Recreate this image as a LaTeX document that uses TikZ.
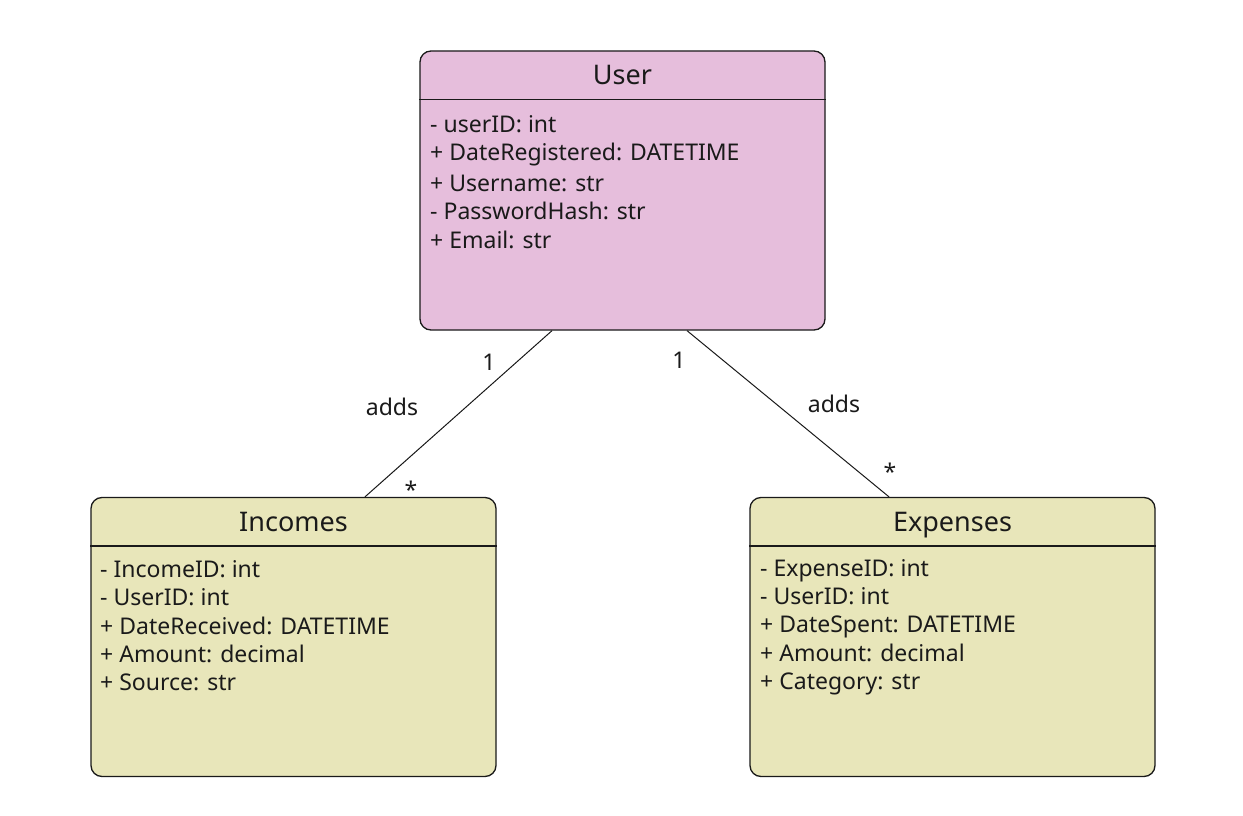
\documentclass[tikz,border=0pt]{standalone}
\usepackage{fontspec}
\setmainfont{Noto Sans}
\usetikzlibrary{calc}
\definecolor{userfill}{RGB}{230,190,220}
\definecolor{tablefill}{RGB}{232,230,186}
\definecolor{linecol}{RGB}{26,26,26}
\tikzset{
  umlbox/.style={draw=linecol, line width=1.3pt, rounded corners=11pt, minimum width=405pt, minimum height=279pt, inner sep=0pt},
  titletext/.style={font=\fontsize{27}{32}\selectfont, text=linecol, inner sep=0pt, text height=19.4pt, text depth=0pt},
  attr/.style={font=\fontsize{23}{28}\selectfont, text=linecol, anchor=west, inner sep=0pt, text height=16.5pt, text depth=0pt},
  lbl/.style={font=\fontsize{23}{28}\selectfont, text=linecol, inner sep=0pt, text height=16.5pt, text depth=0pt},
  assoc/.style={draw=linecol, line width=1pt}
}
\begin{document}
\begin{tikzpicture}[x=1pt,y=-1pt]
\useasboundingbox[fill=white] (0,0) rectangle (1243,816);
% boxes
\node[umlbox, fill=userfill] (user) at (622.5,190.5) {};
\node[umlbox, fill=tablefill] (inc) at (293.5,637) {};
\node[umlbox, fill=tablefill] (exp) at (952.5,637) {};
% header separators
\draw[linecol, line width=1.3pt] ($(user.north west)+(0,49)$) -- ($(user.north east)+(0,49)$);
\draw[linecol, line width=1.3pt] ($(inc.north west)+(0,49)$) -- ($(inc.north east)+(0,49)$);
\draw[linecol, line width=1.3pt] ($(exp.north west)+(0,49)$) -- ($(exp.north east)+(0,49)$);
% titles
\node[titletext] (userT) at (622.5,75) {User};
\node[titletext] (incT) at (293.5,522) {Incomes};
\node[titletext] (expT) at (952.5,522) {Expenses};
% user attributes
\node[attr] (u1) at (430,124) {- userID: int};
\node[attr] (u2) at (430,152) {+ DateRegistered: DATETIME};
\node[attr] (u3) at (430,183) {+ Username: str};
\node[attr] (u4) at (430,211) {- PasswordHash: str};
\node[attr] (u5) at (430,240) {+ Email: str};
% incomes attributes
\node[attr] (i1) at (100,569) {- IncomeID: int};
\node[attr] (i2) at (100,597) {- UserID: int};
\node[attr] (i3) at (100,626) {+ DateReceived: DATETIME};
\node[attr] (i4) at (100,654) {+ Amount: decimal};
\node[attr] (i5) at (100,682) {+ Source: str};
% expenses attributes
\node[attr] (e1) at (760,568) {- ExpenseID: int};
\node[attr] (e2) at (760,596) {- UserID: int};
\node[attr] (e3) at (760,624) {+ DateSpent: DATETIME};
\node[attr] (e4) at (760,653) {+ Amount: decimal};
\node[attr] (e5) at (760,681) {+ Category: str};
% associations
\draw[assoc] ([xshift=-70.5pt]user.south) -- ([xshift=71.5pt]inc.north);
\draw[assoc] ([xshift=64.5pt]user.south) -- ([xshift=-63.5pt]exp.north);
% labels
\node[lbl] (l1) at (489,362) {1};
\node[lbl] (l2) at (392,407) {adds};
\node[lbl] (l3) at (411,490) {*};
\node[lbl] (r1) at (679,360) {1};
\node[lbl] (r2) at (834,404) {adds};
\node[lbl] (r3) at (890,472) {*};
\end{tikzpicture}
\end{document}
